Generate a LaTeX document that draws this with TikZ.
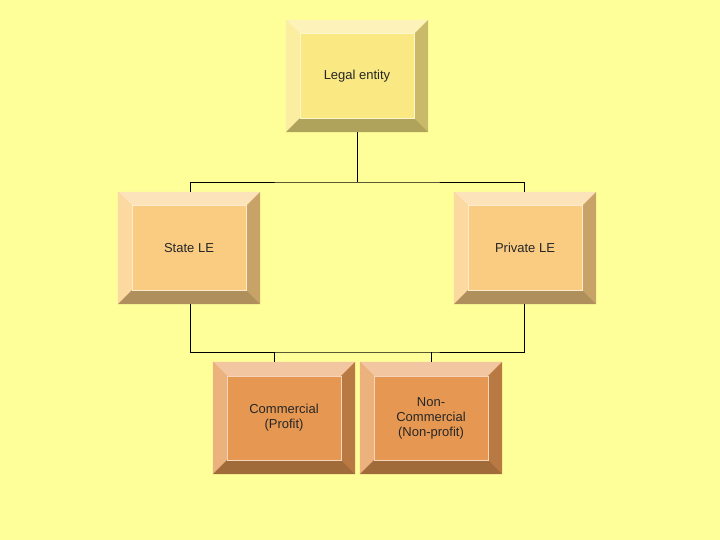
\documentclass[tikz,border=0pt]{standalone}
\usepackage{fontspec}
\setmainfont{Liberation Sans}
\usetikzlibrary{calc}
\definecolor{bg}{RGB}{255,255,153}
\definecolor{cY}{RGB}{250,232,130}
\definecolor{cO}{RGB}{250,204,130}
\definecolor{cD}{RGB}{230,152,82}
\tikzset{box/.style={minimum width=142pt,minimum height=112pt,inner sep=0pt,align=center,font=\fontsize{13}{15}\selectfont,text=black!85},
 link/.style={draw=black,line width=0.8pt}}
\newcommand\bevel[2]{%
 \fill[#2!55!white] (#1.north west) -- (#1.north east) -- ++(-14,14) -- ($(#1.north west)+(14,14)$) -- cycle;
 \fill[#2!75!white] (#1.north west) -- (#1.south west) -- ++(14,-14) -- ($(#1.north west)+(14,14)$) -- cycle;
 \fill[#2!80!black] (#1.north east) -- (#1.south east) -- ++(-14,-14) -- ($(#1.north east)+(-14,14)$) -- cycle;
 \fill[#2!70!black] (#1.south west) -- (#1.south east) -- ++(-14,-14) -- ($(#1.south west)+(14,-14)$) -- cycle;
 \draw[#2!40!white,line width=0.6pt] ($(#1.north west)+(14,14)$) rectangle ($(#1.south east)+(-14,-14)$);}
\begin{document}
\begin{tikzpicture}[x=1pt,y=-1pt]
\fill[bg] (0,0) rectangle (720,540);
\node[box,fill=cY] (le) at (357,76) {Legal entity};
\node[box,fill=cO] (st) at (189,248) {State LE};
\node[box,fill=cO] (pr) at (525,248) {Private LE};
\node[box,fill=cD] (co) at (284,418) {Commercial\\(Profit)};
\node[box,fill=cD] (nc) at (431,418) {Non-\\Commercial\\(Non-profit)};
\bevel{le}{cY}\bevel{st}{cO}\bevel{pr}{cO}\bevel{co}{cD}\bevel{nc}{cD}
\coordinate (j1) at (357,182);
\coordinate (j2) at (357,352);
\draw[link] (le.south) -- (j1);
\draw[link] (st.north -| 190,0) |- (j1) -| (pr.north -| 524,0);
\draw[link] (st.south -| 190,0) |- (j2) -| (pr.south -| 524,0);
\draw[link] (co.north -| 274,0) -- (274,352);
\draw[link] (nc.north) -- (431,352);
\end{tikzpicture}
\end{document}
